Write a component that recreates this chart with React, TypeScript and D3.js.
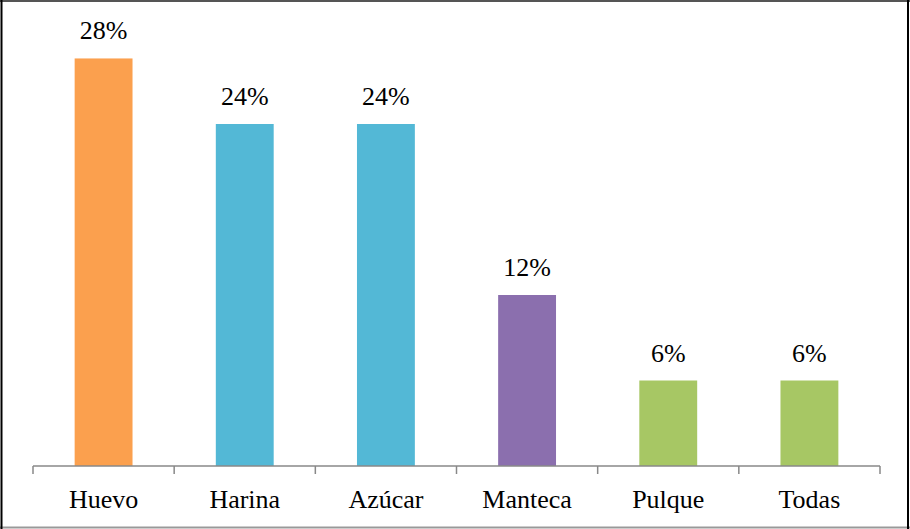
import * as d3 from 'd3';
import React from 'react';

const categories = ['Huevo', 'Harina', 'Azúcar', 'Manteca', 'Pulque', 'Todas'];
const values = [28.6, 24, 24, 12, 6, 6];
const valueLabels = ['28%', '24%', '24%', '12%', '6%', '6%'];
const colors = ['#FBA04E', '#53B8D6', '#53B8D6', '#8B6FAE', '#A7C764', '#A7C764'];

const width = 910;
const height = 529;

export default function App() {
  const x = d3.scaleBand().domain(categories).range([33, 880]).paddingInner(0.59).paddingOuter(0.295);
  const band = d3.scaleBand().domain(categories).range([33, 880]);
  const y = d3.scaleLinear().domain([0, 30]).range([466, 38.5]);
  const ticks = [...categories.map((c) => band(c)!), 880];

  return (
    <div style={{ position: 'absolute', left: 0, top: 0 }}>
      <svg width={width} height={height} style={{ display: 'block' }}>
        <rect width={width} height={height} fill="#fff" />

        {values.map((v, i) => (
          <rect
            key={categories[i]}
            x={x(categories[i])}
            width={x.bandwidth()}
            y={y(v)}
            height={y(0) - y(v)}
            fill={colors[i]}
          />
        ))}

        {values.map((v, i) => (
          <text
            key={'v' + i}
            x={x(categories[i])! + x.bandwidth() / 2}
            y={y(v) - 19}
            textAnchor="middle"
            fontFamily="serif"
            fontSize={26}
          >
            {valueLabels[i]}
          </text>
        ))}

        {/* axis */}
        <g stroke="#888" strokeWidth={1.5}>
          <line x1={33} x2={880} y1={466} y2={466} />
          {ticks.map((t) => (
            <line key={t} x1={t} x2={t} y1={466} y2={474} />
          ))}
        </g>

        {categories.map((c) => (
          <text
            key={c}
            x={band(c)! + band.bandwidth() / 2}
            y={508}
            textAnchor="middle"
            fontFamily="serif"
            fontSize={26}
          >
            {c}
          </text>
        ))}

        {/* frame */}
        <line x1={0} x2={width} y1={1} y2={1} stroke="#555" strokeWidth={2} />
        <line x1={0} x2={width} y1={527.5} y2={527.5} stroke="#999" strokeWidth={2} />
        <line x1={1.5} x2={1.5} y1={0} y2={height} stroke="#000" strokeWidth={2} />
        <line x1={908} x2={908} y1={0} y2={height} stroke="#000" strokeWidth={2} />
      </svg>
    </div>
  );
}
